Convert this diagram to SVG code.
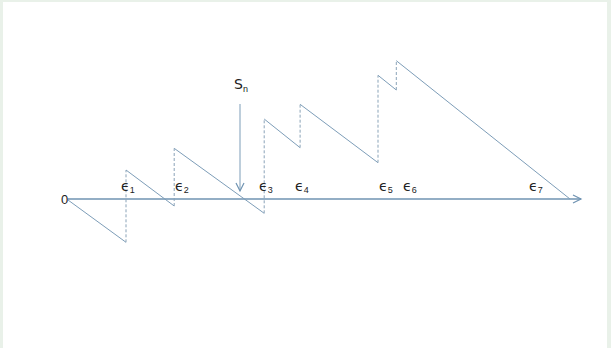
<svg xmlns="http://www.w3.org/2000/svg" width="611" height="348" viewBox="0 0 611 348">
<defs>
<style>
.ln{fill:none;stroke:#7d9db8;stroke-width:1}
.ax{fill:none;stroke:#6f93b2;stroke-width:1.3}
.dash{fill:none;stroke:#8aa3b8;stroke-width:1;stroke-dasharray:3,2}
.lbl{font-family:"DejaVu Sans","Liberation Sans",sans-serif;font-size:14px;fill:#222}
.sub{font-family:"Liberation Sans",sans-serif;font-size:9px;fill:#222}
.zero{font-family:"Liberation Sans",sans-serif;font-size:13px;fill:#222}
</style>
<marker id="open" markerWidth="12" markerHeight="12" refX="9" refY="5" orient="auto" markerUnits="userSpaceOnUse">
<path d="M1,1 L9,5 L1,9" fill="none" stroke="#6f93b2" stroke-width="1.2"/>
</marker>
</defs>
<rect x="0" y="0" width="611" height="348" fill="#e9f1e9"/>
<rect x="3" y="2" width="604" height="346" fill="#ffffff"/>
<g id="connectors">
<line id="axis" class="ax" x1="68" y1="199" x2="581" y2="199" marker-end="url(#open)"/>
<line id="sn-arrow" class="ln" x1="240" y1="104" x2="240" y2="191" marker-end="url(#open)"/>
<path id="walk" class="ln" d="M68,200 L126,242.3 M126,170 L174.2,206 M174.2,148.3 L264.2,213.3 M264.2,119 L300.1,147.7 M300.1,104.3 L378,162.7 M378,75.3 L396.3,90 M396.3,60.7 L570,199"/>
<path id="jumps" class="dash" d="M126,242.3 V170 M174.2,206 V148.3 M264.2,213.3 V119 M300.1,147.7 V104.3 M378,162.7 V75.3 M396.3,90 V60.7"/>
</g>
<g id="label-0"><text class="zero" x="61" y="204">0</text></g>
<g id="label-sn"><text class="lbl" x="234" y="89" font-family="Liberation Sans, sans-serif">S<tspan class="sub" dy="3">n</tspan></text></g>
<g id="label-e1"><text class="lbl" x="121" y="191">ϵ<tspan class="sub" dy="2">1</tspan></text></g>
<g id="label-e2"><text class="lbl" x="175" y="191">ϵ<tspan class="sub" dy="2">2</tspan></text></g>
<g id="label-e3"><text class="lbl" x="259" y="191">ϵ<tspan class="sub" dy="2">3</tspan></text></g>
<g id="label-e4"><text class="lbl" x="295" y="191">ϵ<tspan class="sub" dy="2">4</tspan></text></g>
<g id="label-e5"><text class="lbl" x="379" y="191">ϵ<tspan class="sub" dy="2">5</tspan></text></g>
<g id="label-e6"><text class="lbl" x="403" y="191">ϵ<tspan class="sub" dy="2">6</tspan></text></g>
<g id="label-e7"><text class="lbl" x="529" y="191">ϵ<tspan class="sub" dy="2">7</tspan></text></g>
</svg>
